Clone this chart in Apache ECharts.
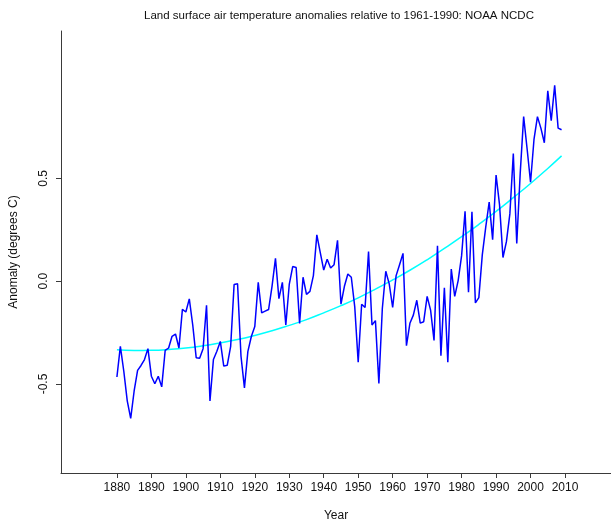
<!DOCTYPE html>
<html>
<head>
<meta charset="utf-8">
<script src="https://cdn.jsdelivr.net/npm/echarts@6/dist/echarts.min.js"></script>
<style>
html,body{margin:0;padding:0;background:#fff;}
#chart{width:611px;height:527px;}
</style>
</head>
<body>
<div id="chart"></div>
<script>
// ---- Data ----
var startYear = 1880;
var anomaly = [
  -0.466,-0.317,-0.438,-0.582,-0.667,-0.534,-0.434,-0.410,-0.381,-0.328, // 1880s
  -0.462,-0.499,-0.462,-0.514,-0.337,-0.325,-0.268,-0.257,-0.325,-0.137, // 1890s
  -0.150,-0.086,-0.213,-0.372,-0.375,-0.328,-0.117,-0.582,-0.381,-0.341, // 1900s
  -0.293,-0.413,-0.409,-0.317,-0.016,-0.013,-0.365,-0.519,-0.341,-0.269, // 1910s
  -0.221,-0.006,-0.154,-0.146,-0.138,-0.025, 0.111,-0.085,-0.006,-0.213, // 1920s
  -0.016, 0.071, 0.066,-0.205, 0.019,-0.064,-0.050, 0.027, 0.225, 0.139, // 1930s
   0.054, 0.107, 0.064, 0.080, 0.199,-0.112,-0.025, 0.035, 0.019,-0.125, // 1940s
  -0.394,-0.112,-0.128, 0.144,-0.213,-0.192,-0.497,-0.133, 0.048,-0.013, // 1950s
  -0.128, 0.027, 0.080, 0.135,-0.314,-0.205,-0.165,-0.093,-0.204,-0.197, // 1960s
  -0.074,-0.141,-0.288, 0.172,-0.362,-0.032,-0.394, 0.059,-0.074, 0.003, // 1970s
   0.124, 0.340,-0.054, 0.337,-0.106,-0.080, 0.128, 0.263, 0.385, 0.202, // 1980s
   0.516, 0.372, 0.115, 0.192, 0.327, 0.620, 0.183, 0.524, 0.800, 0.644, // 1990s
   0.481, 0.689, 0.800, 0.744, 0.673, 0.925, 0.780, 0.952, 0.744, 0.736  // 2000s
];
// Fitted trend curve (cyan), read at 5-year steps
var trendYears  = [1880,1885,1890,1895,1900,1905,1910,1915,1920,1925,1930,1935,1940,1945,1950,1955,1960,1965,1970,1975,1980,1985,1990,1995,2000,2005,2009];
var trendValues = [-0.334,-0.337,-0.336,-0.332,-0.325,-0.314,-0.300,-0.284,-0.264,-0.241,-0.215,-0.187,-0.154,-0.119,-0.081,-0.039,0.006,0.053,0.104,0.159,0.216,0.276,0.339,0.406,0.475,0.548,0.609];
var xTickLabels = [1880,1890,1900,1910,1920,1930,1940,1950,1960,1970,1980,1990,2000,2010];
var yTickLabels = [-0.5,0.0,0.5];

var titleText = 'Land surface air temperature anomalies relative to 1961-1990: NOAA NCDC';
var xName = 'Year';
var yName = 'Anomaly (degrees C)';

// ---- Build series ----
var mainData = anomaly.map(function(v,i){ return [startYear + i, v]; });
var trendData = trendYears.map(function(y,i){ return [y, trendValues[i]]; });

var font = 'Liberation Sans, Arial, Helvetica, sans-serif';
var axisColor = '#3a3a3a';

var chart = echarts.init(document.getElementById('chart'), null, {renderer:'canvas'});
chart.setOption({
  animation: false,
  backgroundColor: '#ffffff',
  title: {
    text: titleText,
    left: 334,
    top: 5,
    textAlign: 'center',
    textStyle: {fontFamily: font, fontSize: 11.5, fontWeight: 'normal', color: '#111'}
  },
  grid: {left: 57, right: 0, top: 31, bottom: 49, containLabel: false},
  xAxis: {
    type: 'value',
    min: 1863.78,
    max: 2023.34,
    name: xName,
    nameLocation: 'middle',
    nameGap: 37,
    nameTextStyle: {fontFamily: font, fontSize: 12, color: '#111'},
    axisLine: {show: true, onZero: false, lineStyle: {color: axisColor, width: 1}},
    axisTick: {show: true, length: 5, customValues: xTickLabels, lineStyle: {color: axisColor}},
    axisLabel: {
      show: true, customValues: xTickLabels, margin: 9, fontFamily: font, fontSize: 12, color: '#111',
      formatter: function(v){ return String(Math.round(v)); }
    },
    splitLine: {show: false}
  },
  yAxis: {
    type: 'value',
    min: -0.9327,
    max: 1.2163,
    name: yName,
    nameLocation: 'middle',
    nameGap: 41,
    nameRotate: 90,
    nameTextStyle: {fontFamily: font, fontSize: 12, color: '#111'},
    axisLine: {show: true, onZero: false, lineStyle: {color: axisColor, width: 1}},
    axisTick: {show: true, length: 5, customValues: yTickLabels, lineStyle: {color: axisColor}},
    axisLabel: {
      show: true, customValues: yTickLabels, rotate: 90, margin: 11,
      fontFamily: font, fontSize: 12, color: '#111',
      formatter: function(v){ return v.toFixed(1); }
    },
    splitLine: {show: false}
  },
  series: [
    {
      type: 'line',
      data: mainData,
      showSymbol: false,
      symbol: 'none',
      lineStyle: {color: '#0000ff', width: 1.5},
      itemStyle: {color: '#0000ff'},
      z: 3
    },
    {
      type: 'line',
      data: trendData,
      smooth: true,
      showSymbol: false,
      symbol: 'none',
      lineStyle: {color: '#00ffff', width: 1.5},
      itemStyle: {color: '#00ffff'},
      z: 2
    }
  ]
});
</script>
</body>
</html>
